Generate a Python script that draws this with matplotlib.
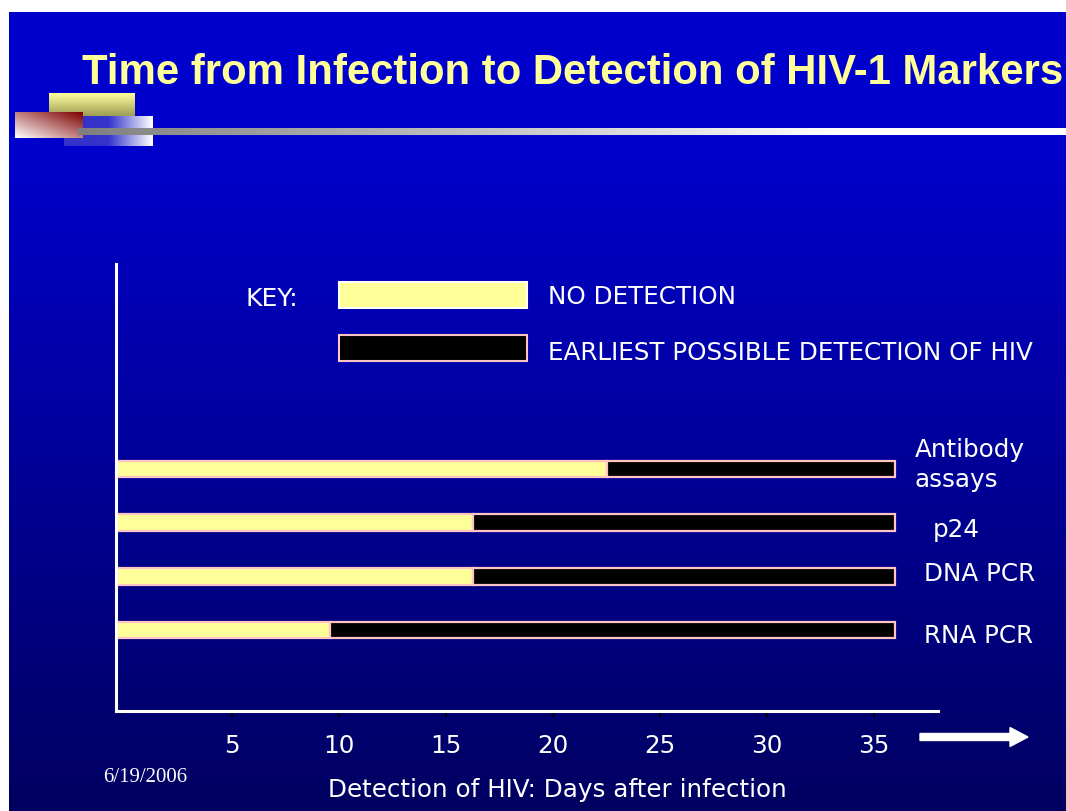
import numpy as np
import matplotlib
matplotlib.use('Agg')
import matplotlib.pyplot as plt
from matplotlib.patches import Rectangle, FancyArrow

# data
markers = ['Antibody\nassays', 'p24', 'DNA PCR', 'RNA PCR']
no_detection_until = [22.5, 16.25, 16.25, 9.6]   # days with no detection
window_end = [36, 36, 36, 36]
tick_days = [5, 10, 15, 20, 25, 30, 35]
title = 'Time from Infection to Detection of HIV-1 Markers'
xlabel = 'Detection of HIV: Days after infection'
key_labels = ['NO DETECTION', 'EARLIEST POSSIBLE DETECTION OF HIV']
date_str = '6/19/2006'

W, H = 1066, 812
YELLOW = '#FFFF99'
PINK = '#FFC4C4'
FONT = 'DejaVu Sans'
FS = 17.7

fig = plt.figure(figsize=(W / 100, H / 100), dpi=100, facecolor='white')

# background axes in pixel coordinates
bg = fig.add_axes([0, 0, 1, 1])
bg.set_xlim(0, W)
bg.set_ylim(H, 0)
bg.axis('off')

# slide background gradient
ys = np.arange(13, H)
b = np.where(ys < 150, 204, 204 - (ys - 150) / (H - 150) * 108)
grad = np.zeros((len(ys), 1, 3))
grad[:, 0, 2] = b / 255
bg.imshow(grad, extent=(9, W, H, 13), aspect='auto', origin='upper', zorder=0)

# decorations top left
t = np.linspace(0, 1, 30)[:, None]
yel = np.zeros((30, 1, 3))
yel[:, 0, :] = (1 - t) * np.array([1.0, 1.0, 0.62]) + t * np.array([0.6, 0.6, 0.32])
bg.imshow(yel, extent=(49, 135, 118, 94), aspect='auto', origin='upper', zorder=1)

u = np.linspace(0, 1, 90)[None, :]
blue = np.zeros((1, 90, 3))
f = np.clip((u - 0.5) / 0.5, 0, 1)
blue[0, :, 0] = 0.2 + 0.8 * f[0]
blue[0, :, 1] = 0.2 + 0.8 * f[0]
blue[0, :, 2] = 0.8 + 0.2 * f[0]
bg.imshow(blue, extent=(64, 153, 147, 117), aspect='auto', origin='upper', zorder=1)

xx, yy = np.meshgrid(np.linspace(0, 1, 60), np.linspace(0, 1, 30))
d = np.clip((xx + (1 - yy)) / 2, 0, 1)
red = np.zeros((30, 60, 3))
red[:, :, 0] = 1 - 0.5 * d
red[:, :, 1] = 1 - d
red[:, :, 2] = 1 - d
bg.imshow(red, extent=(15, 83, 139, 113), aspect='auto', origin='upper', zorder=2)

g = np.clip(np.linspace(0.5, 1.15, 200), 0, 1)
gray = np.zeros((1, 200, 3))
gray[0, :, :] = g[:, None]
bg.imshow(gray, extent=(78, W, 136, 129), aspect='auto', origin='upper', zorder=3)
bg.set_xlim(0, W)
bg.set_ylim(H, 0)

# title
bg.text(82, 84, title, color=YELLOW, fontsize=30.2, fontweight='bold',
        family='Liberation Sans', va='baseline', ha='left', zorder=4)

# key
bg.text(245, 299, 'KEY:', color='white', fontsize=18, family=FONT, va='center')
bg.add_patch(Rectangle((339, 283), 188, 26, facecolor=YELLOW, edgecolor='white', lw=1.5, zorder=3))
bg.add_patch(Rectangle((339, 336), 188, 26, facecolor='black', edgecolor=PINK, lw=1.5, zorder=3))
bg.text(548, 297, key_labels[0], color='white', fontsize=FS, family=FONT, va='center')
bg.text(548, 353, key_labels[1], color='white', fontsize=FS, family=FONT, va='center')

# axis label, date, arrow
bg.text(557, 790, xlabel, color='white', fontsize=FS, family=FONT, ha='center', va='center')
bg.text(103, 778, date_str, color='white', fontsize=15, family='Liberation Serif', va='center')
bg.add_patch(FancyArrow(920, 738, 108, 0, width=7, head_width=19, head_length=18,
                        length_includes_head=True, color='white', zorder=3))

# chart axes
ax = fig.add_axes([116 / W, 1 - 712 / H, (938 - 116) / W, (712 - 265) / H])
ax.set_facecolor('none')
x0 = -0.42
ax.set_xlim(x0, 37.99)
ax.set_ylim(-1.508, 6.816)

ypos = np.arange(len(markers))[::-1]
nd = np.array(no_detection_until)
we = np.array(window_end)
ax.barh(ypos, nd - x0, left=x0, height=0.31, color=YELLOW, edgecolor=PINK, linewidth=1.6)
ax.barh(ypos, we - nd, left=nd, height=0.31, color='black', edgecolor=PINK, linewidth=1.6)

label_offsets = [(19, 5), (37, -6), (29, 3), (29, -5)]
for name, y, end, off in zip(markers, ypos, window_end, label_offsets):
    ax.annotate(name, xy=(end, y), xytext=off, textcoords='offset pixels',
                color='white', fontsize=FS, family=FONT, va='center', ha='left',
                linespacing=1.3)

for s in ['top', 'right']:
    ax.spines[s].set_visible(False)
for s in ['left', 'bottom']:
    ax.spines[s].set_color('white')
    ax.spines[s].set_linewidth(2.2)
ax.set_yticks([])
ax.set_xticks(tick_days)
ax.set_xticklabels([str(v) for v in tick_days], family=FONT)
ax.tick_params(axis='x', colors='black', labelcolor='white', labelsize=FS,
               length=4.5, width=1.5, direction='out', pad=11)

fig.savefig('out.png', dpi=100, facecolor=fig.get_facecolor())
